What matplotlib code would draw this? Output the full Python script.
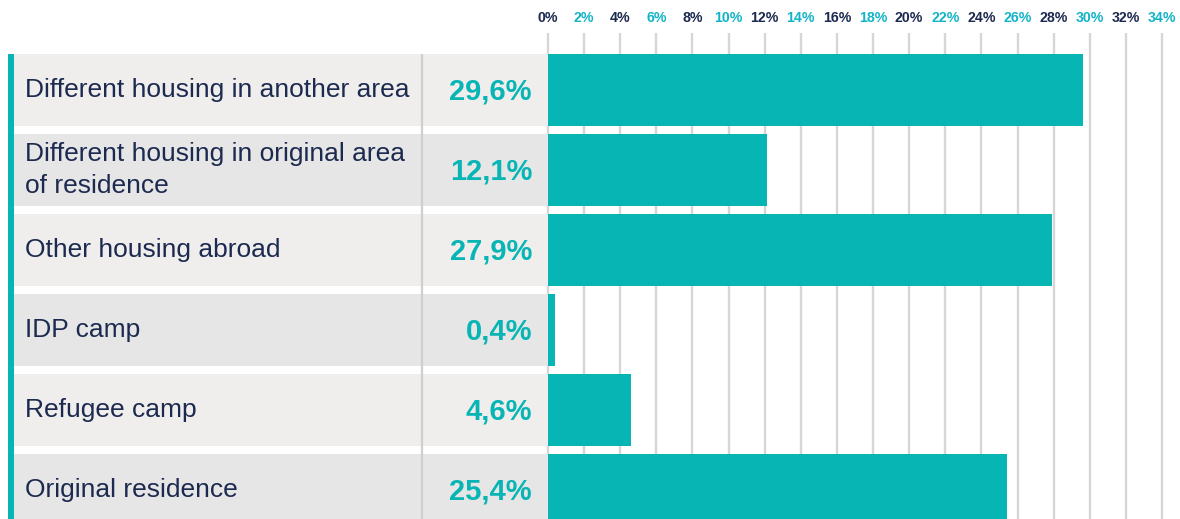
import matplotlib
matplotlib.use("Agg")
import matplotlib.pyplot as plt
from matplotlib.patches import Rectangle

# ---- data ----
categories = [
    "Different housing in another area",
    "Different housing in original area\nof residence",
    "Other housing abroad",
    "IDP camp",
    "Refugee camp",
    "Original residence",
]
values = [29.6, 12.1, 27.9, 0.4, 4.6, 25.4]
tick_values = list(range(0, 35, 2))
tick_labels = [f"{t}%" for t in tick_values]

# ---- style ----
TEAL = "#07B5B4"
NAVY = "#1D2A50"
GRID = "#D6D6D6"
ROW_COLORS = ["#EFEEED", "#E6E6E6"]
FONT = "Liberation Sans"

W, H = 1180, 519
fig = plt.figure(figsize=(W / 100, H / 100), dpi=100)
fig.patch.set_facecolor("white")

def fx(px):
    return px / W

def fy(py):
    return 1 - py / H

top_px, bot_px = 33, 519
row0_center, pitch, row_h = 90, 80, 72
ylo = (bot_px - row0_center) / pitch
yhi = -(row0_center - top_px) / pitch

# bar axes
x0_px, px_per_pct = 548, (1162 - 548) / 34
ax = fig.add_axes([fx(x0_px), 0, 1 - fx(x0_px), (bot_px - top_px) / H])
ax.set_xlim(0, (W - x0_px) / px_per_pct)
ax.set_ylim(ylo, yhi)
ypos = list(range(len(categories)))
ax.vlines(tick_values, yhi, ylo, colors=GRID, linewidth=1.7, zorder=1, clip_on=False)
ax.barh(ypos, values, height=row_h / pitch, color=TEAL, zorder=2, linewidth=0)
ax.set_xticks(tick_values)
ax.set_xticklabels(tick_labels)
ax.xaxis.tick_top()
ax.tick_params(axis="x", length=0, pad=5.5)
for i, lab in enumerate(ax.get_xticklabels()):
    lab.set_fontfamily(FONT)
    lab.set_fontweight("bold")
    lab.set_fontsize(10.2)
    lab.set_color(NAVY if i % 2 == 0 else "#14B4C8")
ax.set_yticks([])
for s in ax.spines.values():
    s.set_visible(False)
ax.patch.set_alpha(0)

# row/label axes
lx0, lx1 = 14, 548
axL = fig.add_axes([fx(lx0), 0, fx(lx1) - fx(lx0), (bot_px - top_px) / H])
axL.set_xlim(lx0, lx1)
axL.set_ylim(ylo, yhi)
axL.barh(ypos, [lx1 - lx0] * len(ypos), left=lx0, height=row_h / pitch,
         color=[ROW_COLORS[i % 2] for i in ypos], linewidth=0, zorder=1)
axL.vlines([422], -row_h / pitch / 2, ylo, colors="#CFCFCF", linewidth=1.6, zorder=2)
for i, (cat, v) in enumerate(zip(categories, values)):
    axL.text(25, i, cat, ha="left", va="center", fontsize=19, color=NAVY,
             fontfamily=FONT, zorder=3, linespacing=1.38)
    axL.text(532, i + 0.02, f"{v:.1f}".replace(".", ",") + "%", ha="right", va="center",
             fontsize=21, fontweight="bold", color=TEAL, fontfamily=FONT, zorder=3)
axL.axis("off")

# left teal strip
fig.patches.append(Rectangle((fx(8), 0), fx(14) - fx(8), fy(54), transform=fig.transFigure,
                             color=TEAL, linewidth=0, zorder=5))

fig.savefig("out.png", dpi=100)
